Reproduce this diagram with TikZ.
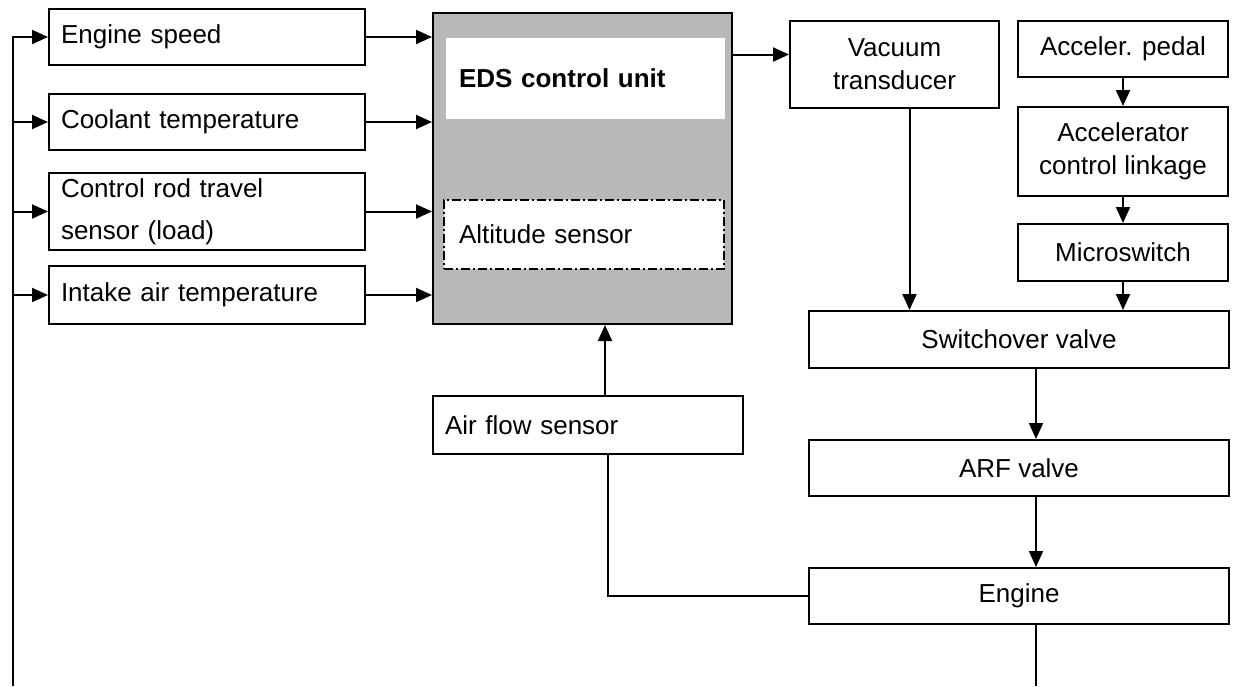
\documentclass[tikz,border=0pt]{standalone}
\usepackage{fontspec}
\setmainfont{Liberation Sans}
\usetikzlibrary{arrows.meta,positioning,calc}
\tikzset{
  blk/.style={draw=black,line width=2pt,inner sep=0pt,anchor=north west,font=\fontsize{26}{33}\selectfont},
  lblk/.style={blk,align=left,inner xsep=12pt},
  cblk/.style={blk,align=center},
  arr/.style={line width=2pt,-{Triangle[length=16pt,width=14pt]}},
  ln/.style={line width=2pt}
}

\begin{document}
\begin{tikzpicture}[x=1pt,y=-1pt]
\useasboundingbox (0,0) rectangle (1234,686);
% sensor inputs
\foreach \n/\y/\h/\t in {speed/8/56/{Engine speed},cool/93/56/{Coolant temperature},rod/172/77/{Control rod travel\\[9pt]sensor (load)},intake/265/58/{Intake air temperature}}{
  \node[lblk,text width=292pt,minimum height=\h pt] (\n) at (48,\y) {\t};
}
% control unit
\node[blk,fill=black!28,minimum width=299pt,minimum height=311pt] (eds) at (432,12) {};
\node[blk,draw=none,fill=white,align=left,inner xsep=13pt,text width=253pt,minimum height=81pt,font=\fontsize{26}{33}\selectfont\bfseries] (ecu) at (445,37) {EDS control unit};
\node[lblk,fill=white,dash pattern=on 9pt off 3pt on 2pt off 3pt,inner xsep=15pt,text width=250pt,minimum height=69pt] (alt) at (443,199) {Altitude sensor};
\node[lblk,text width=286pt,minimum height=58pt] (airflow) at (432,395) {Air flow sensor};
% actuator chain
\node[cblk,minimum width=209pt,minimum height=87pt] (vac) at (789,20) {Vacuum\\transducer};
\node[cblk,minimum width=210pt,minimum height=56pt] (pedal) at (1017,20) {Acceler. pedal};
\node[cblk,minimum width=210pt,minimum height=89pt] (linkage) at (1017,106) {Accelerator\\control linkage};
\node[cblk,minimum width=210pt,minimum height=57pt] (micro) at (1017,223) {Microswitch};
\node[cblk,minimum width=420pt,minimum height=57pt] (switch) at (808,310) {Switchover valve};
\node[cblk,minimum width=420pt,minimum height=56pt] (arf) at (808,439) {ARF valve};
\node[cblk,minimum width=420pt,minimum height=56pt] (engine) at (808,567) {Engine};

\coordinate (fb) at (13,686);
\coordinate (trunk) at (1036,686);
\foreach \n in {speed,cool,rod,intake}{
  \draw[arr] (fb) |- (\n.west);
  \draw[arr] (\n.east) -- (\n.east -| eds.west);
}
\draw[arr] ([yshift=10pt]vac.west -| eds.east) -- ([yshift=10pt]vac.west);
\draw[arr] ([xshift=17pt]airflow.north) -- ([xshift=17pt]airflow.north |- eds.south);
\draw[ln] (engine.west) -| ([xshift=20pt]airflow.south);
\draw[arr] ([xshift=15pt]vac.south) -- ([xshift=15pt]vac.south |- switch.north);
\draw[arr] (pedal) -- (linkage);
\draw[arr] (linkage) -- (micro);
\draw[arr] (micro) -- (micro |- switch.north);
\draw[arr] (trunk |- switch.south) -- (trunk |- arf.north);
\draw[arr] (trunk |- arf.south) -- (trunk |- engine.north);
\draw[ln] (trunk |- engine.south) -- (trunk);
\end{tikzpicture}
\end{document}
